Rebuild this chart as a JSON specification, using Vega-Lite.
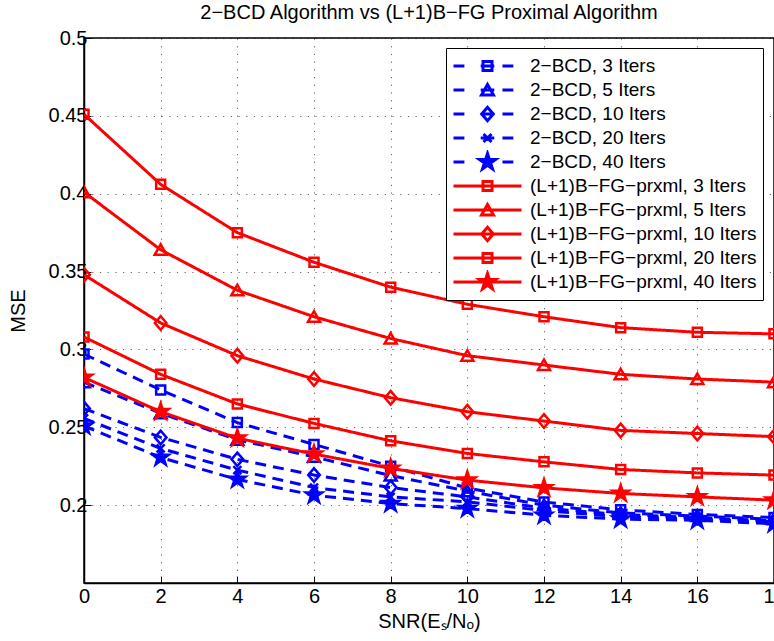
{
  "$schema": "https://vega.github.io/schema/vega-lite/v6.json",
  "width": 690,
  "height": 545,
  "autosize": {"type": "none"},
  "padding": {"left": 84, "top": 38, "right": 0, "bottom": 58},
  "background": "white",
  "title": {"text": "2−BCD Algorithm vs (L+1)B−FG Proximal Algorithm", "fontSize": 20, "fontWeight": "normal", "font": "Liberation Sans", "color": "black", "offset": 5, "anchor": "middle"},
  "data": {"values": [
    {"x": 0, "series": "2−BCD, 3 Iters", "mse": 0.297}, {"x": 2, "series": "2−BCD, 3 Iters", "mse": 0.274}, {"x": 4, "series": "2−BCD, 3 Iters", "mse": 0.253}, {"x": 6, "series": "2−BCD, 3 Iters", "mse": 0.239}, {"x": 8, "series": "2−BCD, 3 Iters", "mse": 0.225}, {"x": 10, "series": "2−BCD, 3 Iters", "mse": 0.211}, {"x": 12, "series": "2−BCD, 3 Iters", "mse": 0.202}, {"x": 14, "series": "2−BCD, 3 Iters", "mse": 0.197}, {"x": 16, "series": "2−BCD, 3 Iters", "mse": 0.194}, {"x": 18, "series": "2−BCD, 3 Iters", "mse": 0.192},
    {"x": 0, "series": "2−BCD, 5 Iters", "mse": 0.279}, {"x": 2, "series": "2−BCD, 5 Iters", "mse": 0.259}, {"x": 4, "series": "2−BCD, 5 Iters", "mse": 0.242}, {"x": 6, "series": "2−BCD, 5 Iters", "mse": 0.231}, {"x": 8, "series": "2−BCD, 5 Iters", "mse": 0.219}, {"x": 10, "series": "2−BCD, 5 Iters", "mse": 0.209}, {"x": 12, "series": "2−BCD, 5 Iters", "mse": 0.2}, {"x": 14, "series": "2−BCD, 5 Iters", "mse": 0.195}, {"x": 16, "series": "2−BCD, 5 Iters", "mse": 0.193}, {"x": 18, "series": "2−BCD, 5 Iters", "mse": 0.191},
    {"x": 0, "series": "2−BCD, 10 Iters", "mse": 0.262}, {"x": 2, "series": "2−BCD, 10 Iters", "mse": 0.2435}, {"x": 4, "series": "2−BCD, 10 Iters", "mse": 0.2294}, {"x": 6, "series": "2−BCD, 10 Iters", "mse": 0.2193}, {"x": 8, "series": "2−BCD, 10 Iters", "mse": 0.2113}, {"x": 10, "series": "2−BCD, 10 Iters", "mse": 0.2053}, {"x": 12, "series": "2−BCD, 10 Iters", "mse": 0.198}, {"x": 14, "series": "2−BCD, 10 Iters", "mse": 0.194}, {"x": 16, "series": "2−BCD, 10 Iters", "mse": 0.192}, {"x": 18, "series": "2−BCD, 10 Iters", "mse": 0.19},
    {"x": 0, "series": "2−BCD, 20 Iters", "mse": 0.2557}, {"x": 2, "series": "2−BCD, 20 Iters", "mse": 0.2364}, {"x": 4, "series": "2−BCD, 20 Iters", "mse": 0.2225}, {"x": 6, "series": "2−BCD, 20 Iters", "mse": 0.2113}, {"x": 8, "series": "2−BCD, 20 Iters", "mse": 0.2053}, {"x": 10, "series": "2−BCD, 20 Iters", "mse": 0.2021}, {"x": 12, "series": "2−BCD, 20 Iters", "mse": 0.1965}, {"x": 14, "series": "2−BCD, 20 Iters", "mse": 0.1925}, {"x": 16, "series": "2−BCD, 20 Iters", "mse": 0.191}, {"x": 18, "series": "2−BCD, 20 Iters", "mse": 0.189},
    {"x": 0, "series": "2−BCD, 40 Iters", "mse": 0.2508}, {"x": 2, "series": "2−BCD, 40 Iters", "mse": 0.2306}, {"x": 4, "series": "2−BCD, 40 Iters", "mse": 0.2165}, {"x": 6, "series": "2−BCD, 40 Iters", "mse": 0.2064}, {"x": 8, "series": "2−BCD, 40 Iters", "mse": 0.201}, {"x": 10, "series": "2−BCD, 40 Iters", "mse": 0.1978}, {"x": 12, "series": "2−BCD, 40 Iters", "mse": 0.1935}, {"x": 14, "series": "2−BCD, 40 Iters", "mse": 0.191}, {"x": 16, "series": "2−BCD, 40 Iters", "mse": 0.1903}, {"x": 18, "series": "2−BCD, 40 Iters", "mse": 0.188},
    {"x": 0, "series": "(L+1)B−FG−prxml, 3 Iters", "mse": 0.451}, {"x": 2, "series": "(L+1)B−FG−prxml, 3 Iters", "mse": 0.406}, {"x": 4, "series": "(L+1)B−FG−prxml, 3 Iters", "mse": 0.375}, {"x": 6, "series": "(L+1)B−FG−prxml, 3 Iters", "mse": 0.356}, {"x": 8, "series": "(L+1)B−FG−prxml, 3 Iters", "mse": 0.34}, {"x": 10, "series": "(L+1)B−FG−prxml, 3 Iters", "mse": 0.329}, {"x": 12, "series": "(L+1)B−FG−prxml, 3 Iters", "mse": 0.321}, {"x": 14, "series": "(L+1)B−FG−prxml, 3 Iters", "mse": 0.314}, {"x": 16, "series": "(L+1)B−FG−prxml, 3 Iters", "mse": 0.311}, {"x": 18, "series": "(L+1)B−FG−prxml, 3 Iters", "mse": 0.31},
    {"x": 0, "series": "(L+1)B−FG−prxml, 5 Iters", "mse": 0.401}, {"x": 2, "series": "(L+1)B−FG−prxml, 5 Iters", "mse": 0.364}, {"x": 4, "series": "(L+1)B−FG−prxml, 5 Iters", "mse": 0.338}, {"x": 6, "series": "(L+1)B−FG−prxml, 5 Iters", "mse": 0.321}, {"x": 8, "series": "(L+1)B−FG−prxml, 5 Iters", "mse": 0.307}, {"x": 10, "series": "(L+1)B−FG−prxml, 5 Iters", "mse": 0.296}, {"x": 12, "series": "(L+1)B−FG−prxml, 5 Iters", "mse": 0.29}, {"x": 14, "series": "(L+1)B−FG−prxml, 5 Iters", "mse": 0.284}, {"x": 16, "series": "(L+1)B−FG−prxml, 5 Iters", "mse": 0.281}, {"x": 18, "series": "(L+1)B−FG−prxml, 5 Iters", "mse": 0.279},
    {"x": 0, "series": "(L+1)B−FG−prxml, 10 Iters", "mse": 0.348}, {"x": 2, "series": "(L+1)B−FG−prxml, 10 Iters", "mse": 0.317}, {"x": 4, "series": "(L+1)B−FG−prxml, 10 Iters", "mse": 0.296}, {"x": 6, "series": "(L+1)B−FG−prxml, 10 Iters", "mse": 0.281}, {"x": 8, "series": "(L+1)B−FG−prxml, 10 Iters", "mse": 0.269}, {"x": 10, "series": "(L+1)B−FG−prxml, 10 Iters", "mse": 0.26}, {"x": 12, "series": "(L+1)B−FG−prxml, 10 Iters", "mse": 0.254}, {"x": 14, "series": "(L+1)B−FG−prxml, 10 Iters", "mse": 0.248}, {"x": 16, "series": "(L+1)B−FG−prxml, 10 Iters", "mse": 0.246}, {"x": 18, "series": "(L+1)B−FG−prxml, 10 Iters", "mse": 0.244},
    {"x": 0, "series": "(L+1)B−FG−prxml, 20 Iters", "mse": 0.308}, {"x": 2, "series": "(L+1)B−FG−prxml, 20 Iters", "mse": 0.284}, {"x": 4, "series": "(L+1)B−FG−prxml, 20 Iters", "mse": 0.265}, {"x": 6, "series": "(L+1)B−FG−prxml, 20 Iters", "mse": 0.2525}, {"x": 8, "series": "(L+1)B−FG−prxml, 20 Iters", "mse": 0.2413}, {"x": 10, "series": "(L+1)B−FG−prxml, 20 Iters", "mse": 0.2332}, {"x": 12, "series": "(L+1)B−FG−prxml, 20 Iters", "mse": 0.2278}, {"x": 14, "series": "(L+1)B−FG−prxml, 20 Iters", "mse": 0.2229}, {"x": 16, "series": "(L+1)B−FG−prxml, 20 Iters", "mse": 0.2207}, {"x": 18, "series": "(L+1)B−FG−prxml, 20 Iters", "mse": 0.2193},
    {"x": 0, "series": "(L+1)B−FG−prxml, 40 Iters", "mse": 0.282}, {"x": 2, "series": "(L+1)B−FG−prxml, 40 Iters", "mse": 0.26}, {"x": 4, "series": "(L+1)B−FG−prxml, 40 Iters", "mse": 0.243}, {"x": 6, "series": "(L+1)B−FG−prxml, 40 Iters", "mse": 0.2328}, {"x": 8, "series": "(L+1)B−FG−prxml, 40 Iters", "mse": 0.2236}, {"x": 10, "series": "(L+1)B−FG−prxml, 40 Iters", "mse": 0.2161}, {"x": 12, "series": "(L+1)B−FG−prxml, 40 Iters", "mse": 0.2111}, {"x": 14, "series": "(L+1)B−FG−prxml, 40 Iters", "mse": 0.2075}, {"x": 16, "series": "(L+1)B−FG−prxml, 40 Iters", "mse": 0.2053}, {"x": 18, "series": "(L+1)B−FG−prxml, 40 Iters", "mse": 0.2032}
  ]},
  "layer": [
    {
      "mark": {"type": "line", "strokeWidth": 3, "strokeCap": "butt", "clip": true},
      "encoding": {
        "x": {"field": "x", "type": "quantitative", "scale": {"domain": [0, 18], "nice": false}, "axis": {"values": [0, 2, 4, 6, 8, 10, 12, 14, 16, 18], "format": "d", "title": "SNR(Eₛ/Nₒ)", "labelPadding": 10, "titlePadding": 5, "labelFlush": false, "labelOverlap": false}},
        "y": {"field": "mse", "type": "quantitative", "scale": {"domain": [0.15, 0.5], "nice": false, "zero": false}, "axis": {"values": [0.2, 0.25, 0.3, 0.35, 0.4, 0.45, 0.5], "format": "~g", "title": "MSE", "labelPadding": 4, "titlePadding": 20, "labelFlush": false, "labelOverlap": false}},
        "stroke": {"field": "series", "type": "nominal", "legend": null, "scale": {"domain": ["2−BCD, 3 Iters", "2−BCD, 5 Iters", "2−BCD, 10 Iters", "2−BCD, 20 Iters", "2−BCD, 40 Iters", "(L+1)B−FG−prxml, 3 Iters", "(L+1)B−FG−prxml, 5 Iters", "(L+1)B−FG−prxml, 10 Iters", "(L+1)B−FG−prxml, 20 Iters", "(L+1)B−FG−prxml, 40 Iters"], "range": ["#0000ff", "#0000ff", "#0000ff", "#0000ff", "#0000ff", "#ff0000", "#ff0000", "#ff0000", "#ff0000", "#ff0000"]}},
        "strokeDash": {"field": "series", "type": "nominal", "legend": null, "scale": {"domain": ["2−BCD, 3 Iters", "2−BCD, 5 Iters", "2−BCD, 10 Iters", "2−BCD, 20 Iters", "2−BCD, 40 Iters", "(L+1)B−FG−prxml, 3 Iters", "(L+1)B−FG−prxml, 5 Iters", "(L+1)B−FG−prxml, 10 Iters", "(L+1)B−FG−prxml, 20 Iters", "(L+1)B−FG−prxml, 40 Iters"], "range": [[11, 7], [11, 7], [11, 7], [11, 7], [11, 7], [1, 0], [1, 0], [1, 0], [1, 0], [1, 0]]}}
      }
    },
    {
      "mark": {"type": "point", "size": 100, "strokeWidth": 2.5, "opacity": 1, "clip": true},
      "encoding": {
        "x": {"field": "x", "type": "quantitative"},
        "y": {"field": "mse", "type": "quantitative"},
        "shape": {"field": "series", "type": "nominal", "legend": null, "scale": {"domain": ["2−BCD, 3 Iters", "2−BCD, 5 Iters", "2−BCD, 10 Iters", "2−BCD, 20 Iters", "2−BCD, 40 Iters", "(L+1)B−FG−prxml, 3 Iters", "(L+1)B−FG−prxml, 5 Iters", "(L+1)B−FG−prxml, 10 Iters", "(L+1)B−FG−prxml, 20 Iters", "(L+1)B−FG−prxml, 40 Iters"], "range": [
          "M-0.9,-0.9H0.9V0.9H-0.9Z",
          "M0,-1.1L1.2,1L-1.2,1Z",
          "M-1.16,0L0,-1.36L1.16,0L0,1.36Z",
          "M-0.8,-0.8L0.8,0.8M-0.8,0.8L0.8,-0.8",
          "M0,-1.7L0.382,-0.526L1.616,-0.526L0.618,0.2L1,1.376L0,0.65L-1,1.376L-0.618,0.2L-1.616,-0.526L-0.382,-0.526Z",
          "M-0.9,-0.9H0.9V0.9H-0.9Z",
          "M0,-1.1L1.2,1L-1.2,1Z",
          "M-1.16,0L0,-1.36L1.16,0L0,1.36Z",
          "M-0.9,-0.9H0.9V0.9H-0.9Z",
          "M0,-1.7L0.382,-0.526L1.616,-0.526L0.618,0.2L1,1.376L0,0.65L-1,1.376L-0.618,0.2L-1.616,-0.526L-0.382,-0.526Z"]}},
        "stroke": {"field": "series", "type": "nominal", "legend": null, "scale": {"domain": ["2−BCD, 3 Iters", "2−BCD, 5 Iters", "2−BCD, 10 Iters", "2−BCD, 20 Iters", "2−BCD, 40 Iters", "(L+1)B−FG−prxml, 3 Iters", "(L+1)B−FG−prxml, 5 Iters", "(L+1)B−FG−prxml, 10 Iters", "(L+1)B−FG−prxml, 20 Iters", "(L+1)B−FG−prxml, 40 Iters"], "range": ["#0000ff", "#0000ff", "#0000ff", "#0000ff", "#0000ff", "#ff0000", "#ff0000", "#ff0000", "#ff0000", "#ff0000"]}},
        "fill": {"field": "series", "type": "nominal", "legend": null, "scale": {"domain": ["2−BCD, 3 Iters", "2−BCD, 5 Iters", "2−BCD, 10 Iters", "2−BCD, 20 Iters", "2−BCD, 40 Iters", "(L+1)B−FG−prxml, 3 Iters", "(L+1)B−FG−prxml, 5 Iters", "(L+1)B−FG−prxml, 10 Iters", "(L+1)B−FG−prxml, 20 Iters", "(L+1)B−FG−prxml, 40 Iters"], "range": ["transparent", "transparent", "transparent", "transparent", "#0000ff", "transparent", "transparent", "transparent", "transparent", "#ff0000"]}}
      }
    },
    {
      "transform": [{"filter": "datum.x < 0"}],
      "mark": {"type": "point", "size": 4624, "strokeWidth": 3, "opacity": 1},
      "encoding": {
        "shape": {"field": "series", "type": "nominal", "title": null, "scale": {"domain": ["2−BCD, 3 Iters", "2−BCD, 5 Iters", "2−BCD, 10 Iters", "2−BCD, 20 Iters", "2−BCD, 40 Iters", "(L+1)B−FG−prxml, 3 Iters", "(L+1)B−FG−prxml, 5 Iters", "(L+1)B−FG−prxml, 10 Iters", "(L+1)B−FG−prxml, 20 Iters", "(L+1)B−FG−prxml, 40 Iters"], "range": [
          "M-1,0H-0.68M-0.2,0H0.2M0.44,0H0.76M-0.132,-0.132H0.132V0.132H-0.132Z",
          "M-1,0H-0.68M-0.2,0H0.2M0.44,0H0.76M0,-0.162L0.176,0.147L-0.176,0.147Z",
          "M-1,0H-0.68M-0.2,0H0.2M0.44,0H0.76M-0.171,0L0,-0.2L0.171,0L0,0.2Z",
          "M-1,0H-0.68M-0.2,0H0.2M0.44,0H0.76M-0.118,-0.118L0.118,0.118M-0.118,0.118L0.118,-0.118",
          "M-1,0H-0.68M0.44,0H0.76M0,-0.25L0.056,-0.077L0.238,-0.077L0.091,0.029L0.147,0.202L0,0.096L-0.147,0.202L-0.091,0.029L-0.238,-0.077L-0.056,-0.077Z",
          "M-1,0H1M-0.132,-0.132H0.132V0.132H-0.132Z",
          "M-1,0H1M0,-0.162L0.176,0.147L-0.176,0.147Z",
          "M-1,0H1M-0.171,0L0,-0.2L0.171,0L0,0.2Z",
          "M-1,0H1M-0.132,-0.132H0.132V0.132H-0.132Z",
          "M-1,0H1M0,-0.25L0.056,-0.077L0.238,-0.077L0.091,0.029L0.147,0.202L0,0.096L-0.147,0.202L-0.091,0.029L-0.238,-0.077L-0.056,-0.077Z"]}},
        "stroke": {"field": "series", "type": "nominal", "title": null, "scale": {"domain": ["2−BCD, 3 Iters", "2−BCD, 5 Iters", "2−BCD, 10 Iters", "2−BCD, 20 Iters", "2−BCD, 40 Iters", "(L+1)B−FG−prxml, 3 Iters", "(L+1)B−FG−prxml, 5 Iters", "(L+1)B−FG−prxml, 10 Iters", "(L+1)B−FG−prxml, 20 Iters", "(L+1)B−FG−prxml, 40 Iters"], "range": ["#0000ff", "#0000ff", "#0000ff", "#0000ff", "#0000ff", "#ff0000", "#ff0000", "#ff0000", "#ff0000", "#ff0000"]}},
        "fill": {"field": "series", "type": "nominal", "title": null, "scale": {"domain": ["2−BCD, 3 Iters", "2−BCD, 5 Iters", "2−BCD, 10 Iters", "2−BCD, 20 Iters", "2−BCD, 40 Iters", "(L+1)B−FG−prxml, 3 Iters", "(L+1)B−FG−prxml, 5 Iters", "(L+1)B−FG−prxml, 10 Iters", "(L+1)B−FG−prxml, 20 Iters", "(L+1)B−FG−prxml, 40 Iters"], "range": ["transparent", "transparent", "transparent", "transparent", "#0000ff", "transparent", "transparent", "transparent", "transparent", "#ff0000"]}}
      }
    }
  ],
  "resolve": {"scale": {"shape": "independent", "fill": "independent", "stroke": "independent", "strokeDash": "independent"}},
  "config": {
    "font": "Liberation Sans",
    "view": {"stroke": "black", "strokeWidth": 1.5},
    "axis": {"labelFont": "Liberation Sans", "labelFontSize": 20, "labelColor": "black", "titleFont": "Liberation Sans", "titleFontSize": 20, "titleFontWeight": "normal", "titleColor": "black", "domainColor": "black", "domainWidth": 1.5, "tickColor": "black", "tickSize": -7, "tickWidth": 1, "grid": true, "gridColor": "#000000", "gridOpacity": 0.6, "gridDash": [1.2, 6.5], "gridWidth": 1},
    "legend": {"orient": "none", "legendX": 362, "legendY": 10, "labelFont": "Liberation Sans", "labelFontSize": 19, "labelColor": "black", "labelOffset": 7, "labelLimit": 0, "symbolSize": 4624, "symbolStrokeWidth": 3, "strokeColor": "black", "fillColor": "white", "padding": 6, "rowPadding": 0, "clipHeight": 24, "cornerRadius": 0, "titlePadding": 0}
  }
}
